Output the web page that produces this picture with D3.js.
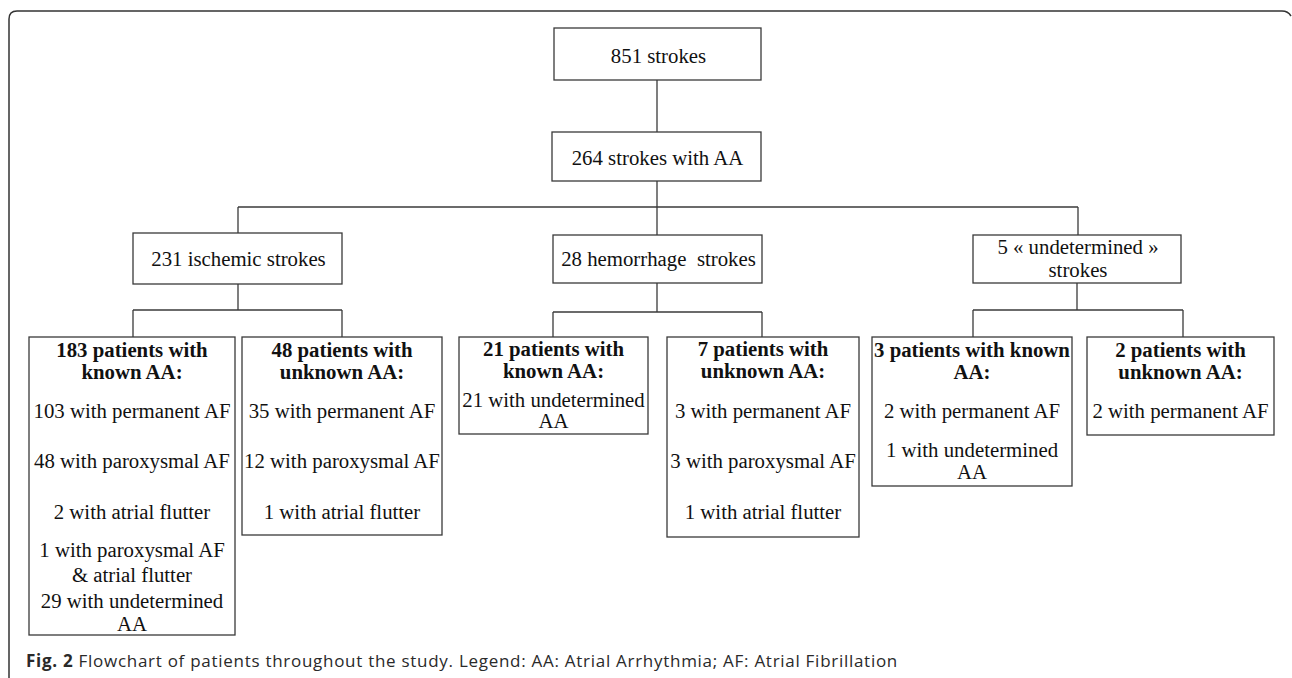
<!DOCTYPE html>
<html>
<head>
<meta charset="utf-8">
<script src="https://cdn.jsdelivr.net/npm/d3@7"></script>
<style>
  body { margin: 0; background: #fff; }
  svg text { font-family: "Liberation Serif", "Times New Roman", serif; font-size: 20.8px; fill: #111; }
  svg text.cap { font-family: "Open Sans", sans-serif; font-size: 17px; fill: #2a2a2a; }
</style>
</head>
<body>
<svg id="flow"></svg>
<script>
// ---- data ----
var totalLabel = ["851 strokes"];
var aaLabel = ["264 strokes with AA"];
var strokeTypeLabels = [
  ["231 ischemic strokes"],
  ["28 hemorrhage  strokes"],
  ["5 \u00ab undetermined \u00bb", "strokes"]
];
var groupHeaders = [
  ["183 patients with", "known AA:"],
  ["48 patients with", "unknown AA:"],
  ["21 patients with", "known AA:"],
  ["7 patients with", "unknown AA:"],
  ["3 patients with known", "AA:"],
  ["2 patients with", "unknown AA:"]
];
var groupDetails = [
  [["103 with permanent AF"], ["48 with paroxysmal AF"], ["2 with atrial flutter"], ["1 with paroxysmal AF", "& atrial flutter"], ["29 with undetermined", "AA"]],
  [["35 with permanent AF"], ["12 with paroxysmal AF"], ["1 with atrial flutter"]],
  [["21 with undetermined", "AA"]],
  [["3 with permanent AF"], ["3 with paroxysmal AF"], ["1 with atrial flutter"]],
  [["2 with permanent AF"], ["1 with undetermined", "AA"]],
  [["2 with permanent AF"]]
];
var captionBold = "Fig. 2";
var captionText = " Flowchart of patients throughout the study. Legend: AA: Atrial Arrhythmia; AF: Atrial Fibrillation";

// ---- layout (kept apart from the data) ----
var screen = {width: 1292, height: 678};
var boxes = [
  {x: 554, y: 28, w: 207, h: 52, lines: [35]},
  {x: 552, y: 132, w: 209, h: 49, lines: [33]},
  {x: 133, y: 233, w: 209, h: 51, lines: [33]},
  {x: 553, y: 235, w: 209, h: 48, lines: [31]},
  {x: 973, y: 235, w: 208, h: 48, lines: [19, 42]}
];
var groupBoxes = [
  {x: 29, y: 337, w: 206, h: 298, head: [20, 42], body: [81, 131, 182, 220, 245, 271, 294]},
  {x: 242, y: 337, w: 200, h: 198, head: [20, 42], body: [81, 131, 182]},
  {x: 459, y: 337, w: 189, h: 97, head: [19, 41], body: [70, 91]},
  {x: 667, y: 337, w: 192, h: 200, head: [19, 41], body: [81, 131, 182]},
  {x: 872, y: 337, w: 200, h: 149, head: [20, 42], body: [81, 120, 142]},
  {x: 1087, y: 337, w: 187, h: 98, head: [20, 42], body: [81]}
];
var splitY = [207, 310, 312, 310];

var svg = d3.select("#flow")
  .attr("width", screen.width)
  .attr("height", screen.height);

// outer frame (open on the right / bottom, rounded corners)
svg.append("path")
  .attr("d", "M9,690 L9,19 Q9,11 17,11 L1282,11 Q1288,11 1291,16")
  .attr("fill", "none")
  .attr("stroke", "#333")
  .attr("stroke-width", 1.5);

var lineColor = "#3a3a3a";
var drawLine = function(x1, y1, x2, y2) {
  svg.append("line")
    .attr("x1", x1).attr("y1", y1).attr("x2", x2).attr("y2", y2)
    .attr("stroke", lineColor).attr("stroke-width", 1.3);
};
var cx = function(b) { return b.x + b.w / 2; };

// ---- connectors ----
drawLine(657, boxes[0].y + boxes[0].h, 657, boxes[1].y);
drawLine(657, boxes[1].y + boxes[1].h, 657, splitY[0]);
var typeX = [238, 657, 1078];
drawLine(typeX[0], splitY[0], typeX[2], splitY[0]);
typeX.forEach(function(x, i) {
  drawLine(x, splitY[0], x, boxes[i + 2].y);
});
var childX = [[133, 342], [553, 762], [973, 1183]];
var parentX = [238, 657, 1077];
childX.forEach(function(pair, i) {
  var parent = boxes[i + 2];
  var y = splitY[i + 1];
  drawLine(parentX[i], parent.y + parent.h, parentX[i], y);
  drawLine(pair[0], y, pair[1], y);
  pair.forEach(function(x) { drawLine(x, y, x, 337); });
});

// ---- top boxes ----
var topData = [totalLabel, aaLabel].concat(strokeTypeLabels);
var tops = svg.selectAll("g.top")
  .data(topData)
  .enter()
  .append("g")
  .classed("top", true);

tops.append("rect")
  .attr("x", function(d, i) { return boxes[i].x; })
  .attr("y", function(d, i) { return boxes[i].y; })
  .attr("width", function(d, i) { return boxes[i].w; })
  .attr("height", function(d, i) { return boxes[i].h; })
  .attr("fill", "#fff")
  .attr("stroke", lineColor)
  .attr("stroke-width", 1.3);

tops.each(function(lines, i) {
  var b = boxes[i];
  d3.select(this).selectAll("text")
    .data(lines)
    .enter()
    .append("text")
    .attr("x", cx(b) + 1)
    .attr("y", function(d, j) { return b.y + b.lines[j]; })
    .attr("text-anchor", "middle")
    .style("white-space", "pre")
    .text(function(d) { return d; });
});

// ---- patient group boxes ----
var groups = svg.selectAll("g.group")
  .data(groupHeaders)
  .enter()
  .append("g")
  .classed("group", true);

groups.append("rect")
  .attr("x", function(d, i) { return groupBoxes[i].x; })
  .attr("y", function(d, i) { return groupBoxes[i].y; })
  .attr("width", function(d, i) { return groupBoxes[i].w; })
  .attr("height", function(d, i) { return groupBoxes[i].h; })
  .attr("fill", "#fff")
  .attr("stroke", lineColor)
  .attr("stroke-width", 1.3);

groups.each(function(head, i) {
  var b = groupBoxes[i];
  var g = d3.select(this);
  g.selectAll("text.head")
    .data(head)
    .enter()
    .append("text")
    .classed("head", true)
    .attr("x", cx(b))
    .attr("y", function(d, j) { return b.y + b.head[j]; })
    .attr("text-anchor", "middle")
    .style("font-weight", "bold")
    .text(function(d) { return d; });

  var flat = [];
  groupDetails[i].forEach(function(item) {
    item.forEach(function(line) { flat.push(line); });
  });
  g.selectAll("text.body")
    .data(flat)
    .enter()
    .append("text")
    .classed("body", true)
    .attr("x", cx(b))
    .attr("y", function(d, j) { return b.y + b.body[j]; })
    .attr("text-anchor", "middle")
    .text(function(d) { return d; });
});

// ---- caption ----
var cap = svg.append("text")
  .classed("cap", true)
  .attr("x", 26)
  .attr("y", 667);
cap.append("tspan").style("font-weight", "bold").text(captionBold);
cap.append("tspan").style("white-space", "pre").text(captionText);

// stretch caption to the width it has in the figure
var capWidth = 872;
var capLen = cap.node().getComputedTextLength();
var nChars = (captionBold + captionText).length;
cap.style("letter-spacing", ((capWidth - capLen) / nChars) + "px");
</script>
</body>
</html>
